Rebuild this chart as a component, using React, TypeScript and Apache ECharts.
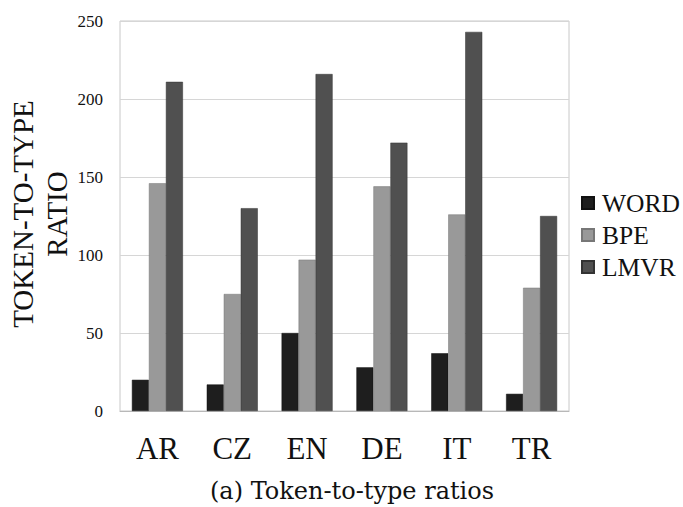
import React, { useEffect, useRef } from "react";
import * as echarts from "echarts";

const categories = ["AR", "CZ", "EN", "DE", "IT", "TR"];
const wordValues = [20, 17, 50, 28, 37, 11];
const bpeValues = [146, 75, 97, 144, 126, 79];
const lmvrValues = [211, 130, 216, 172, 243, 125];
const yTicks = { min: 0, max: 250, interval: 50 };

const SERIF = "Liberation Serif";

export default function App() {
  const ref = useRef<HTMLDivElement>(null);
  useEffect(() => {
    if (!ref.current) return;
    const chart = echarts.init(ref.current, undefined, { renderer: "svg" });
    const barCommon = {
      type: "bar" as const,
      barWidth: 17,
      barGap: "0%",
    };
    chart.setOption({
      animation: false,
      backgroundColor: "#ffffff",
      grid: {
        left: 120,
        right: 114,
        top: 21,
        bottom: 96,
        show: true,
        borderColor: "#c8c8c8",
        borderWidth: 1,
      },
      legend: {
        orient: "vertical",
        left: 581,
        top: 190,
        padding: 0,
        itemWidth: 12,
        itemHeight: 12,
        itemGap: 6,
        icon: "rect",
        textStyle: {
          fontFamily: SERIF,
          fontSize: 25.5,
          color: "#111",
          padding: [0, 0, 0, 3],
        },
        data: ["WORD", "BPE", "LMVR"],
      },
      xAxis: {
        type: "category",
        data: categories,
        axisTick: { show: false },
        axisLine: { lineStyle: { color: "#b8b8b8", width: 1 } },
        axisLabel: {
          fontFamily: SERIF,
          fontSize: 31,
          color: "#111",
          margin: 22,
        },
      },
      yAxis: {
        type: "value",
        min: yTicks.min,
        max: yTicks.max,
        interval: yTicks.interval,
        axisLine: { show: false },
        axisTick: { show: false },
        splitLine: { lineStyle: { color: "#d6d6d6", width: 1 } },
        axisLabel: {
          fontFamily: SERIF,
          fontSize: 17,
          color: "#111",
          margin: 17,
        },
      },
      graphic: [
        {
          type: "text",
          x: 40,
          y: 214,
          rotation: Math.PI / 2,
          style: {
            text: "TOKEN-TO-TYPE\nRATIO",
            fontFamily: SERIF,
            fontSize: 29,
            lineHeight: 34,
            fill: "#111",
            align: "center",
            verticalAlign: "middle",
          },
        },
        {
          type: "text",
          x: 352,
          y: 491,
          style: {
            text: "(a) Token-to-type ratios",
            fontFamily: "DejaVu Serif",
            fontSize: 24,
            fill: "#111",
            align: "center",
            verticalAlign: "middle",
          },
        },
      ],
      series: [
        {
          ...barCommon,
          name: "WORD",
          data: wordValues,
          itemStyle: { color: "#1e1e1e", borderColor: "#111", borderWidth: 0.5 },
        },
        {
          ...barCommon,
          name: "BPE",
          data: bpeValues,
          itemStyle: { color: "#999999", borderColor: "#777", borderWidth: 0.5 },
        },
        {
          ...barCommon,
          name: "LMVR",
          data: lmvrValues,
          itemStyle: { color: "#505050", borderColor: "#333", borderWidth: 0.5 },
        },
      ],
    });
    return () => chart.dispose();
  }, []);
  return <div ref={ref} style={{ width: 683, height: 507, position: "absolute", left: 0, top: 0 }} />;
}
